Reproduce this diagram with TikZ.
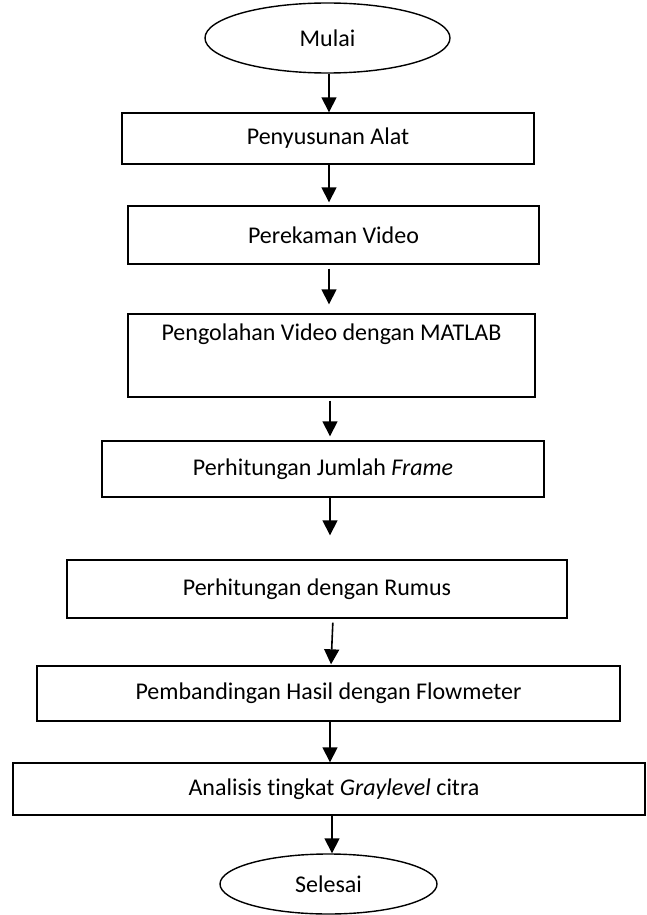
\documentclass[tikz,border=0pt]{standalone}
\usepackage{fontspec}
\setmainfont[Ligatures={NoCommon,NoContextual}]{Carlito}
\usetikzlibrary{shapes.geometric,arrows.meta,calc}
\begin{document}
\begin{tikzpicture}[x=1pt,y=-1pt,
  every node/.style={font=\fontsize{24}{29}\selectfont, inner sep=0pt},
  stepbox/.style={draw, line width=1.4pt, rectangle},
  term/.style={draw, line width=1.4pt, ellipse},
  arr/.style={draw, line width=1.6pt, -{Triangle[length=15pt,width=15pt]}}]
\useasboundingbox (0,0) rectangle (646,915);
% columns for connectors
\coordinate (cA) at (329,0);
\coordinate (cB) at (330,0);
\coordinate (cC) at (332,0);
\coordinate (cD) at (333,0);
\coordinate (cE) at (331,0);
% nodes
\node[term, minimum width=245pt, minimum height=70pt] (m) at (327.5,38) {Mulai};
\node[stepbox, minimum width=412pt, minimum height=51pt] (b1) at (328,138.5) {Penyusunan Alat};
\node[stepbox, minimum width=411pt, minimum height=58pt] (b2) at (333.5,235) {Perekaman Video};
\node[stepbox, minimum width=407pt, minimum height=83pt] (b3) at (331.5,355.5) {};
\node (b3t) at (331.5,334) {Pengolahan Video dengan MATLAB};
\node[stepbox, minimum width=442pt, minimum height=56pt] (b4) at (323,469) {Perhitungan Jumlah \textit{Frame}};
\node[stepbox, minimum width=500pt, minimum height=58pt] (b5) at (317,589) {Perhitungan dengan Rumus};
\node[stepbox, minimum width=583pt, minimum height=55pt] (b6) at (328.5,693.5) {Pembandingan Hasil dengan Flowmeter};
\node[stepbox, minimum width=632pt, minimum height=52pt] (b7) at (329,789) {};
\node (b7t) at (334,789) {Analisis tingkat \textit{Graylevel} citra};
\node[term, minimum width=217pt, minimum height=60pt] (s) at (328.5,884) {Selesai};
% connectors
\draw[arr] (m.south -| cA) -- (b1.north -| cA);
\draw[arr, shorten >=3pt] (b1.south -| cA) -- (b2.north -| cA);
\draw[arr, shorten <=4pt, shorten >=9pt] (b2.south -| cA) -- (b3.north -| cA);
\draw[arr, shorten <=3pt, shorten >=4pt] (b3.south -| cB) -- (b4.north -| cB);
\draw[arr, shorten >=24pt] (b4.south -| cB) -- (b5.north -| cB);
\draw[arr, shorten <=4pt, shorten >=1pt] (b5.south -| cD) -- (b6.north -| cE);
\draw[arr] (b6.south -| cB) -- (b7.north -| cB);
\draw[arr] (b7.south -| cC) -- (s.north -| cC);
\end{tikzpicture}
\end{document}
